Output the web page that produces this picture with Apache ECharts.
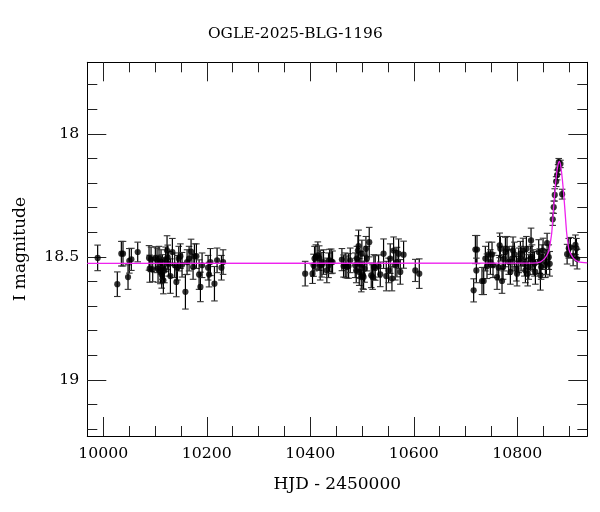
<!DOCTYPE html>
<html>
<head>
<meta charset="utf-8">
<script src="https://cdn.jsdelivr.net/npm/echarts@6/dist/echarts.min.js"></script>
<style>html,body{margin:0;padding:0;background:#fff;}#c{width:600px;height:512px;}</style>
</head>
<body>
<div id="c"></div>
<script>
// ---- data: [HJD-2450000, I mag, error] ----
const season1 = [
[9989.1,18.504,0.052],[10027.1,18.611,0.050],[10034.9,18.487,0.050],[10038.1,18.487,0.050],
[10047.8,18.582,0.050],[10050.3,18.516,0.050],[10054.2,18.510,0.045],[10066.5,18.480,0.040],
[10088.4,18.504,0.050],[10089.7,18.548,0.055],[10092.3,18.510,0.050],[10095.5,18.551,0.050],
[10100.6,18.504,0.045],[10103.9,18.514,0.050],[10105.8,18.548,0.055],[10107.7,18.507,0.050],
[10110.3,18.559,0.050],[10111.6,18.521,0.050],[10112.9,18.572,0.055],[10114.2,18.541,0.050],
[10116.1,18.595,0.055],[10118.0,18.555,0.050],[10120.6,18.510,0.050],[10123.2,18.474,0.060],
[10124.5,18.502,0.050],[10126.4,18.528,0.050],[10129.7,18.578,0.070],[10133.5,18.480,0.055],
[10138.0,18.534,0.050],[10141.2,18.602,0.060],[10143.2,18.544,0.050],[10145.8,18.507,0.050],
[10149.0,18.497,0.050],[10152.2,18.532,0.050],[10158.7,18.642,0.070],[10161.9,18.521,0.050],
[10165.8,18.507,0.050],[10169.6,18.478,0.050],[10173.5,18.541,0.050],[10176.1,18.497,0.050],
[10179.9,18.497,0.050],[10185.1,18.572,0.060],[10187.7,18.622,0.060],[10190.9,18.534,0.050],
[10202.5,18.544,0.050],[10204.4,18.572,0.050],[10207.0,18.521,0.055],[10214.8,18.609,0.070],
[10219.9,18.514,0.050],[10228.3,18.544,0.050],[10231.5,18.521,0.050]
];
const season2 = [
[10390.1,18.568,0.050],[10404.3,18.568,0.040],[10406.3,18.534,0.045],[10408.2,18.507,0.050],
[10410.8,18.501,0.050],[10414.6,18.494,0.055],[10417.2,18.505,0.050],[10419.2,18.534,0.060],
[10422.4,18.532,0.050],[10425.6,18.521,0.050],[10432.0,18.555,0.050],[10435.3,18.534,0.050],
[10437.2,18.514,0.045],[10440.4,18.518,0.050],[10443.0,18.521,0.045],[10461.1,18.511,0.045],
[10464.3,18.537,0.045],[10467.5,18.534,0.050],[10470.7,18.541,0.045],[10474.0,18.537,0.050],
[10477.2,18.514,0.050],[10486.8,18.534,0.050],[10488.8,18.555,0.050],[10490.1,18.507,0.050],
[10492.0,18.474,0.060],[10493.3,18.456,0.065],[10494.6,18.561,0.055],[10496.5,18.532,0.055],
[10498.5,18.582,0.060],[10499.7,18.487,0.055],[10501.7,18.575,0.055],[10503.0,18.582,0.050],
[10504.9,18.548,0.055],[10507.5,18.467,0.050],[10509.4,18.507,0.050],[10513.9,18.440,0.060],
[10517.8,18.575,0.050],[10520.4,18.582,0.050],[10522.9,18.541,0.050],[10525.5,18.545,0.050],
[10532.0,18.537,0.045],[10535.2,18.571,0.050],[10541.6,18.487,0.060],[10546.8,18.578,0.060],
[10551.3,18.555,0.050],[10554.5,18.507,0.060],[10557.8,18.588,0.050],[10561.0,18.474,0.055],
[10564.2,18.534,0.060],[10567.4,18.521,0.060],[10570.7,18.487,0.060],[10573.9,18.561,0.050],
[10580.3,18.491,0.055],[10602.9,18.555,0.045],[10610.6,18.568,0.060]
];
const season3 = [
[10715.7,18.636,0.047],[10719.0,18.470,0.057],[10722.2,18.470,0.057],[10720.9,18.555,0.050],
[10731.8,18.598,0.055],[10735.1,18.598,0.055],[10738.3,18.507,0.050],[10741.5,18.538,0.050],
[10744.7,18.490,0.050],[10748.0,18.521,0.050],[10751.2,18.490,0.050],[10753.1,18.534,0.050],
[10760.9,18.582,0.050],[10764.1,18.544,0.050],[10766.0,18.453,0.050],[10767.3,18.467,0.050],
[10770.5,18.598,0.050],[10772.5,18.541,0.050],[10773.8,18.507,0.050],[10777.0,18.480,0.060],
[10780.2,18.467,0.050],[10783.4,18.521,0.050],[10786.6,18.561,0.050],[10789.9,18.507,0.050],
[10791.8,18.474,0.055],[10794.4,18.490,0.050],[10798.3,18.548,0.050],[10799.5,18.568,0.050],
[10802.8,18.514,0.050],[10806.0,18.487,0.050],[10807.3,18.507,0.050],[10811.1,18.474,0.050],
[10813.7,18.528,0.050],[10815.7,18.555,0.050],[10817.6,18.467,0.050],[10820.2,18.568,0.050],
[10822.1,18.541,0.050],[10825.3,18.507,0.050],[10826.6,18.433,0.050],[10828.6,18.501,0.050],
[10830.5,18.521,0.050],[10833.1,18.528,0.050],[10835.0,18.561,0.050],[10841.4,18.480,0.050],
[10843.4,18.517,0.050],[10844.7,18.575,0.060],[10846.0,18.541,0.050],[10847.9,18.501,0.050],
[10849.8,18.474,0.050],[10854.3,18.534,0.050],[10856.3,18.521,0.050],[10857.6,18.444,0.040],
[10860.8,18.501,0.050],[10862.7,18.528,0.050]
];
const peak = [
[10868.5,18.347,0.025],[10870.4,18.298,0.025],[10872.4,18.248,0.025],[10875.1,18.194,0.020],
[10877.0,18.167,0.020],[10878.9,18.144,0.020],[10880.1,18.115,0.015],[10883.4,18.122,0.015],
[10886.7,18.245,0.020],
[10896.3,18.489,0.040],[10899.5,18.465,0.040],[10902.7,18.461,0.040],[10907.9,18.496,0.040],
[10912.4,18.451,0.040],[10914.3,18.465,0.040],[10915.6,18.509,0.040]
];
// model curve
const model = [
[9969.1,18.526],[10830,18.525],[10845,18.520],[10853.5,18.505],[10858,18.490],[10861,18.475],
[10864,18.440],[10866.5,18.404],[10869.6,18.316],[10872.9,18.228],[10876.1,18.160],[10878.8,18.125],
[10881.2,18.112],[10883.5,18.125],[10885.8,18.160],[10889,18.228],[10892.3,18.316],[10895.5,18.404],
[10898,18.445],[10900,18.472],[10908.2,18.505],[10917.9,18.519],[10935.3,18.524]
];
const xMajor = [10000,10200,10400,10600,10800];
const xMinor = [10000,10050,10100,10150,10200,10250,10300,10350,10400,10450,10500,10550,10600,10650,10700,10750,10800,10850,10900];
const yMajor = [18,18.5,19];
const yMinor = [17.8,17.9,18,18.1,18.2,18.3,18.4,18.5,18.6,18.7,18.8,18.9,19,19.1,19.2];
const X_MIN = 9969.1, X_MAX = 10935.3, Y_MIN = 17.709, Y_MAX = 19.228;

const allPts = season1.concat(season2, season3, peak);
const FONT = 'DejaVu Serif';
const lineStyle = {color:'#000', width:1};

function xAx(pos, vals, len, show, lbl) {
  return {type:'value', position:pos, min:X_MIN, max:X_MAX, splitLine:{show:false},
    axisLine:{show:show, lineStyle:lineStyle},
    axisTick:{show:true, inside:true, length:len, customValues:vals, lineStyle:{color:'#222', width:1}},
    axisLabel:lbl ? {show:true, customValues:xMajor, formatter:v=>String(v), color:'#000', fontFamily:FONT, fontSize:15.7, margin:10} : {show:false}};
}
function yAx(pos, vals, len, show, lbl) {
  return {type:'value', position:pos, inverse:true, min:Y_MIN, max:Y_MAX, splitLine:{show:false},
    axisLine:{show:show, lineStyle:lineStyle},
    axisTick:{show:true, inside:true, length:len, customValues:vals, lineStyle:{color:'#222', width:1}},
    axisLabel:lbl ? {show:true, customValues:yMajor, formatter:v=>String(v), color:'#000', fontFamily:FONT, fontSize:15.7, margin:8} : {show:false}};
}

const xAxes = [xAx('bottom', xMajor, 19, true, true), xAx('bottom', xMinor, 10, false, false),
               xAx('top', xMajor, 19, true, false), xAx('top', xMinor, 10, false, false)];
xAxes[0].name = 'HJD - 2450000';
xAxes[0].nameLocation = 'middle';
xAxes[0].nameGap = 40;
xAxes[0].nameTextStyle = {color:'#000', fontFamily:FONT, fontSize:17};
const yAxes = [yAx('left', yMajor, 19, true, true), yAx('left', yMinor, 10, false, false),
               yAx('right', yMajor, 19, true, false), yAx('right', yMinor, 10, false, false)];
yAxes[0].name = 'I magnitude';
yAxes[0].nameLocation = 'middle';
yAxes[0].nameGap = 58;
yAxes[0].nameTextStyle = {color:'#000', fontFamily:FONT, fontSize:17};

const chart = echarts.init(document.getElementById('c'), null, {renderer:'canvas'});
chart.setOption({
  animation:false,
  backgroundColor:'#fff',
  title:{text:'OGLE-2025-BLG-1196', left:208, top:26, padding:0,
    textStyle:{color:'#000', fontFamily:FONT, fontSize:15.4, fontWeight:'normal'}},
  grid:{left:87.3, right:12.7, top:62.3, bottom:76},
  xAxis:xAxes,
  yAxis:yAxes,
  series:[
    {type:'custom', xAxisIndex:0, yAxisIndex:0, z:2,
      data:allPts.map(p=>[p[0], p[1]-p[2], p[1]+p[2]]),
      renderItem:function(params, api){
        const x = api.value(0);
        const a = api.coord([x, api.value(1)]), b = api.coord([x, api.value(2)]);
        const w = 3.3;
        return {type:'group', children:[
          {type:'line', shape:{x1:a[0], y1:a[1], x2:b[0], y2:b[1]}, style:{stroke:'#000', lineWidth:1.2}},
          {type:'line', shape:{x1:a[0]-w, y1:a[1], x2:a[0]+w, y2:a[1]}, style:{stroke:'#333', lineWidth:1.1}},
          {type:'line', shape:{x1:b[0]-w, y1:b[1], x2:b[0]+w, y2:b[1]}, style:{stroke:'#333', lineWidth:1.1}}
        ]};
      }},
    {type:'scatter', xAxisIndex:0, yAxisIndex:0, z:3, symbol:'circle', symbolSize:6.2,
      itemStyle:{color:'#000'}, data:allPts.map(p=>[p[0], p[1]])},
    {type:'line', xAxisIndex:0, yAxisIndex:0, z:4, data:model, showSymbol:false, smooth:0.3,
      lineStyle:{color:'#ee22ee', width:1.3}}
  ]
});
</script>
</body>
</html>
